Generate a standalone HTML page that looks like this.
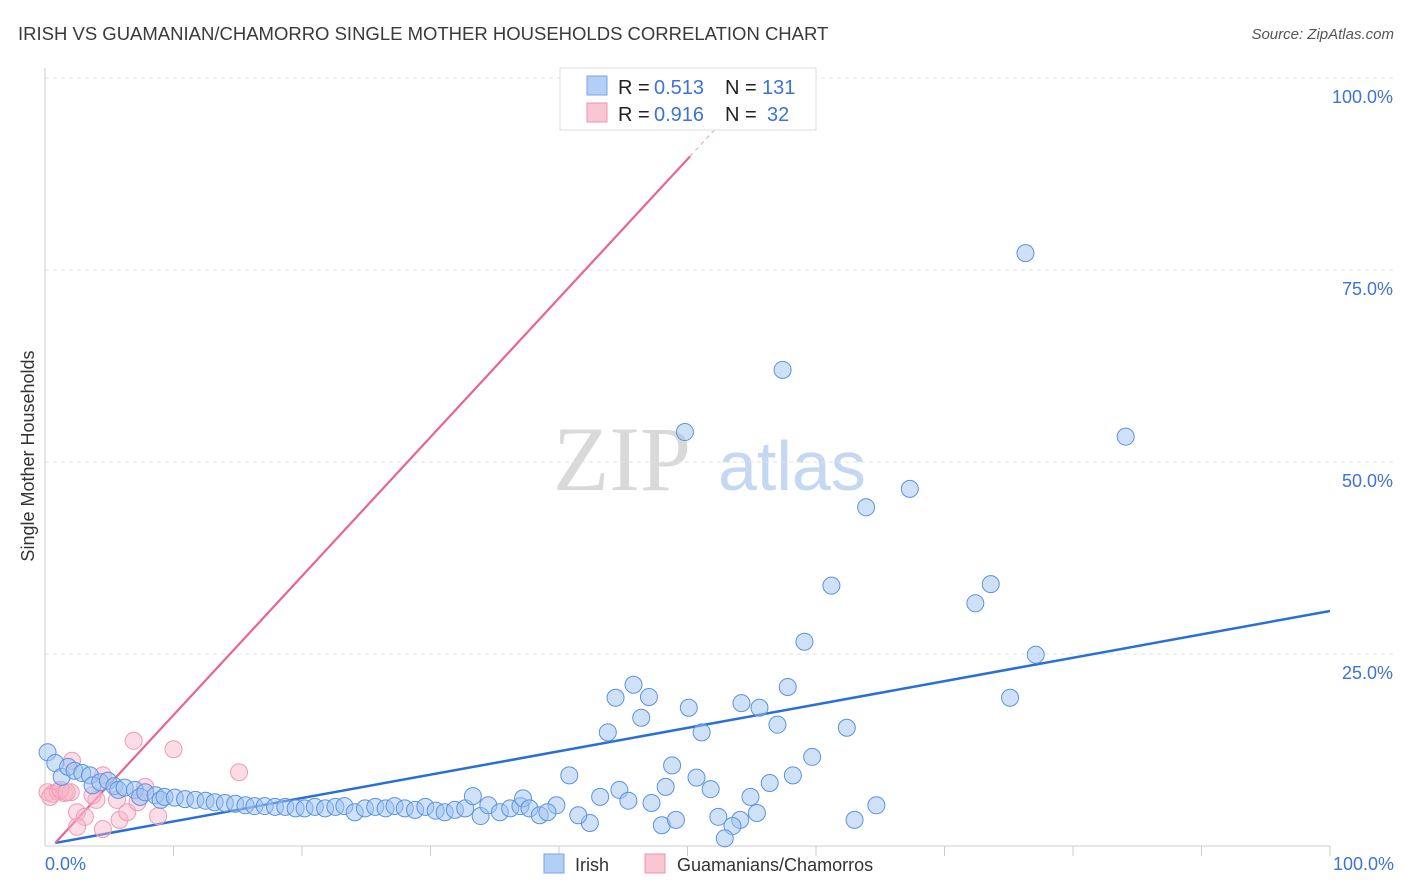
<!DOCTYPE html>
<html><head><meta charset="utf-8"><style>
body{margin:0;background:#fff;font-family:"Liberation Sans",sans-serif;}
#wrap{position:relative;width:1406px;height:892px;overflow:hidden;}
</style></head><body>
<div id="wrap">
<svg id="svg" width="1406" height="892">
<text x="18" y="40" font-size="18.5" fill="#3a3a3a">IRISH VS GUAMANIAN/CHAMORRO SINGLE MOTHER HOUSEHOLDS CORRELATION CHART</text>
<text x="1394" y="39" font-size="15" fill="#555" font-style="italic" text-anchor="end">Source: ZipAtlas.com</text>
<text transform="translate(34,456) rotate(-90)" font-size="18" fill="#333" text-anchor="middle">Single Mother Households</text>
<g>
<text x="553" y="490" font-size="92" font-family="Liberation Serif,serif" fill="#d9d9d9">ZIP</text>
<text x="718" y="490" font-size="70" fill="#c5d8f2">atlas</text>
</g>
<g id="grid"></g><g id="axes"></g><g id="trend"></g><g id="pts"></g>
<g>
<rect x="560" y="68" width="256" height="62" fill="#fff" stroke="#ddd"/>
<rect x="587" y="76" width="20" height="19" fill="#b3cff5" stroke="#7aa6e6"/>
<rect x="587" y="103" width="20" height="19" fill="#f9c6d4" stroke="#ee93ae"/>
<text x="618" y="94" font-size="20" fill="#222">R =</text>
<text x="654" y="94" font-size="20" fill="#3b73d9">0.513</text>
<text x="725" y="94" font-size="20" fill="#222">N =</text>
<text x="762" y="94" font-size="20" fill="#3b73d9">131</text>
<text x="618" y="121" font-size="20" fill="#222">R =</text>
<text x="654" y="121" font-size="20" fill="#3b73d9">0.916</text>
<text x="725" y="121" font-size="20" fill="#222">N =</text>
<text x="767" y="121" font-size="20" fill="#3b73d9">32</text>
</g>
<g>
<rect x="544" y="854" width="20" height="19" fill="#b3cff5" stroke="#7aa6e6"/>
<text x="575" y="871" font-size="18" fill="#333">Irish</text>
<rect x="645" y="854" width="20" height="19" fill="#f9c6d4" stroke="#ee93ae"/>
<text x="677" y="871" font-size="18" fill="#333">Guamanians/Chamorros</text>
</g>
</svg>
</div>
<script>
const yTicks=[25,50,75,100];
const yTickLabels=["25.0%","50.0%","75.0%","100.0%"];
const xTickLabels=["0.0%","100.0%"];
const irishX=[0.2,0.8,1.3,1.8,2.3,2.9,3.5,3.7,4.3,4.9,5.4,5.7,6.2,7.0,7.4,7.8,8.6,9.0,9.3,10.1,10.9,11.7,12.5,13.2,14.0,14.8,15.6,16.3,17.1,17.9,18.7,19.5,20.2,21.0,21.8,22.6,23.3,24.1,24.9,25.7,26.5,27.2,28.0,28.8,29.6,30.4,31.1,31.9,32.7,33.9,34.5,35.4,36.2,37.0,37.2,37.7,38.5,39.8,
76.3,57.4,49.8,84.1,67.3,63.9,61.2,73.6,72.4,59.1,77.1,45.8,44.4,47.0,57.8,75.1,54.2,50.1,55.6,46.4,57.0,62.4,43.8,51.1,59.7,48.8,40.8,58.2,50.7,56.4,48.3,51.8,44.7,43.2,54.9,33.3,45.4,47.2,64.7,55.4,52.4,54.1,48.0,49.1,63.0,53.5,52.9,42.4,41.5,39.1];
const irishY=[12.2,10.8,9.0,10.3,9.8,9.5,9.2,7.9,8.3,8.5,7.8,7.3,7.6,7.3,6.4,7.0,6.6,6.0,6.4,6.3,6.1,6.0,5.9,5.7,5.6,5.5,5.3,5.2,5.2,5.1,5.1,4.9,4.9,5.1,4.9,5.1,5.2,4.4,4.9,5.1,4.9,5.2,4.9,4.7,5.1,4.6,4.4,4.7,4.9,3.9,5.3,4.4,4.9,5.2,6.2,4.9,4.0,5.3,
77.2,62.0,53.9,53.3,46.5,44.1,33.9,34.1,31.6,26.6,24.9,21.0,19.3,19.4,20.7,19.3,18.6,18.0,18.0,16.7,15.8,15.4,14.8,14.8,11.6,10.5,9.2,9.2,8.9,8.2,7.7,7.4,7.3,6.4,6.4,6.5,5.9,5.6,5.3,4.3,3.8,3.4,2.7,3.4,3.4,2.6,1.0,3.0,4.0,4.4];
const guamX=[6.9,10.0,15.1,2.1,0.2,0.6,1.0,1.5,2.0,0.4,4.5,7.8,4.0,2.5,3.1,2.5,4.5,5.8,6.4,8.8,7.2,3.7,5.6,1.2,1.7,47.9];
const guamY=[13.7,12.6,9.6,11.1,7.0,6.8,7.1,6.9,7.0,6.4,9.2,7.7,6.0,4.4,3.8,2.5,2.2,3.4,4.4,3.9,5.7,6.6,6.0,7.3,7.0,100.2];
const irishTrend=[0.8,0.4,100,30.6];
const guamTrend=[0.8,0.4,50.2,89.8];

const X0=45,X1=1330,Y0=846,Y1=78;
const sx=v=>X0+(X1-X0)*v/100, sy=v=>Y0-(Y0-Y1)*v/100;
const NS="http://www.w3.org/2000/svg";
function mk(tag,attrs,parent){const e=document.createElementNS(NS,tag);for(const k in attrs)e.setAttribute(k,attrs[k]);document.getElementById(parent).appendChild(e);return e;}
yTicks.forEach((t,i)=>{
 const g=mk('line',{x1:X0,x2:1395,y1:sy(t),y2:sy(t),stroke:'#e2e2e2','stroke-dasharray':'4,4'},'grid');
 
 
 const l=mk('text',{x:1393,y:sy(t)+25,'font-size':18,fill:'#3b73d9','text-anchor':'end'},'grid');
 l.textContent=yTickLabels[i];
 
 
});
let a=mk('line',{x1:X0,x2:X0,y1:68,y2:Y0,stroke:'#ccc'},'axes');


a=mk('line',{x1:X0,x2:X1,y1:Y0,y2:Y0,stroke:'#ccc'},'axes');


for(let i=1;i<=10;i++){const t=mk('line',{x1:sx(i*10),x2:sx(i*10),y1:Y0,y2:Y0+10,stroke:'#ccc'},'axes');
 
 }
[[0,'start',45],[100,'end',1394]].forEach((d,i)=>{const t=mk('text',{x:d[2],y:870,'font-size':18,fill:'#3b73d9','text-anchor':d[1]},'axes');t.textContent=xTickLabels[i];
 
 });
let tl=mk('line',{x1:sx(irishTrend[0]),y1:sy(irishTrend[1]),x2:sx(irishTrend[2]),y2:sy(irishTrend[3]),stroke:'#2a6fd6','stroke-width':2.5},'trend');


tl=mk('line',{x1:sx(guamTrend[0]),y1:sy(guamTrend[1]),x2:sx(guamTrend[2]),y2:sy(guamTrend[3]),stroke:'#e8658d','stroke-width':2.2},'trend');


const slope=(guamTrend[3]-guamTrend[1])/(guamTrend[2]-guamTrend[0]);
tl=mk('line',{x1:sx(guamTrend[2]),y1:sy(guamTrend[3]),x2:sx(guamTrend[2]+3),y2:sy(guamTrend[3]+3*slope),stroke:'#e8a0b8','stroke-width':1,'stroke-dasharray':'4,4'},'trend');


guamX.forEach((x,i)=>{const c=mk('circle',{cx:sx(x),cy:sy(guamY[i]),r:8.5,fill:'rgba(248,180,200,0.45)',stroke:'#f09ab4','stroke-width':1},'pts');
 
 });
irishX.forEach((x,i)=>{const c=mk('circle',{cx:sx(x),cy:sy(irishY[i]),r:8.5,fill:'rgba(160,195,240,0.5)',stroke:'#5b93e0','stroke-width':1},'pts');
 
 });
</script>
</body></html>
